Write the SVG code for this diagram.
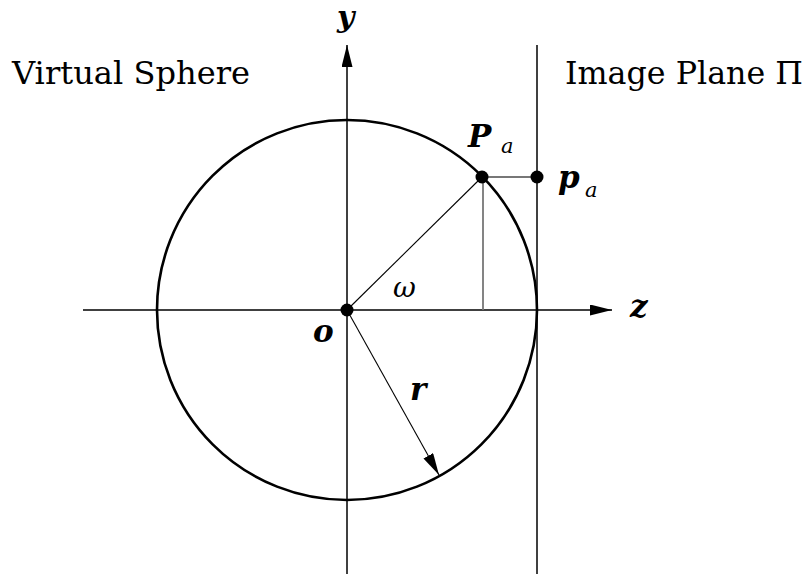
<svg xmlns="http://www.w3.org/2000/svg" width="812" height="581" viewBox="0 0 812 581">
<style>
.ax{stroke:#000;stroke-width:1.5;fill:none}
.thin{stroke:#000;stroke-width:1.1;fill:none}
.gray{stroke:#777;stroke-width:1.8;fill:none}
.dot{fill:#000}
.title{font-family:'DejaVu Serif', serif;font-size:32px;fill:#000}
.mb{font-family:'DejaVu Serif', serif;font-size:31px;font-weight:bold;font-style:italic;fill:#000}
.mi{font-family:'DejaVu Serif', serif;font-size:21px;font-style:italic;fill:#000}
.om{font-family:'DejaVu Serif', serif;font-size:28px;font-style:italic;fill:#000}
</style>
<defs>
<marker id="ah" viewBox="0 0 22 11" refX="22" refY="5.5" markerWidth="22" markerHeight="11" markerUnits="userSpaceOnUse" orient="auto">
<path d="M0,0 L22,5.5 L0,11 Z" fill="#000"/>
</marker>
</defs>
<g id="connectors">
<line id="y-axis" class="ax" x1="347" y1="574" x2="347" y2="45" marker-end="url(#ah)"/>
<line id="z-axis" class="ax" x1="83" y1="310" x2="612" y2="310" marker-end="url(#ah)"/>
<line id="image-plane-line" class="ax" x1="537" y1="45" x2="537" y2="574"/>
<line id="radius-Pa" class="thin" x1="347" y1="310" x2="482" y2="177"/>
<line id="proj-h" class="gray" x1="482" y1="177" x2="537" y2="177"/>
<line id="proj-v" class="gray" x1="483" y1="177" x2="483" y2="310"/>
<line id="r-arrow" class="thin" x1="347" y1="310" x2="439" y2="475" marker-end="url(#ah)"/>
</g>
<g id="sphere">
<circle cx="347" cy="310" r="190" fill="none" stroke="#000" stroke-width="2.6"/>
</g>
<g id="origin">
<circle class="dot" cx="347" cy="310" r="6.5"/>
<text class="mb" x="313" y="342">o</text>
</g>
<g id="Pa">
<circle class="dot" cx="482" cy="177" r="6.5"/>
<text class="mb" x="468" y="147">P</text>
<text class="mi" x="501" y="153">a</text>
</g>
<g id="pa">
<circle class="dot" cx="537" cy="177" r="6.5"/>
<text class="mb" x="558" y="188">p</text>
<text class="mi" x="585" y="197">a</text>
</g>
<g id="labels">
<text class="mb" x="337" y="27" style="font-size:30px">y</text>
<text class="mb" x="630" y="317">z</text>
<text class="mb" x="410" y="400">r</text>
<text class="om" x="393" y="297">ω</text>
<text class="title" x="12" y="84" textLength="238" lengthAdjust="spacingAndGlyphs">Virtual Sphere</text>
<text class="title" x="565" y="84" textLength="238" lengthAdjust="spacingAndGlyphs">Image Plane Π</text>
</g>
</svg>
